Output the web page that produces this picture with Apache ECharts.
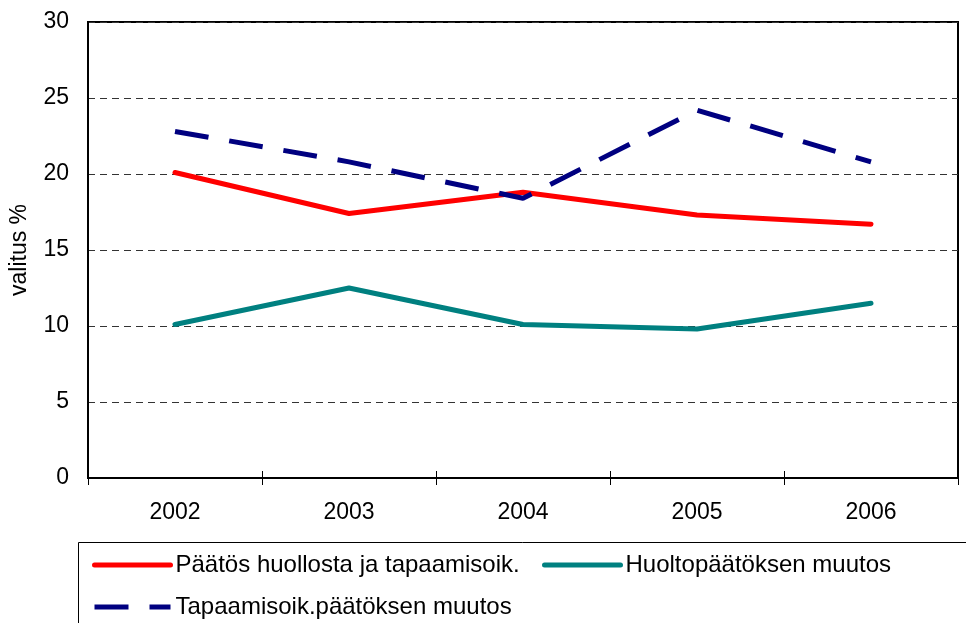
<!DOCTYPE html>
<html><head><meta charset="utf-8">
<script src="https://cdn.jsdelivr.net/npm/echarts@6/dist/echarts.min.js"></script>
<style>html,body{margin:0;padding:0;background:#fff}#c{width:966px;height:623px}</style>
</head><body><div id="c"></div>
<script>
const categories = ['2002','2003','2004','2005','2006'];
const yTicks = [0,5,10,15,20,25,30];
const nameRed = 'Päätös huollosta ja tapaamisoik.';
const nameTeal = 'Huoltopäätöksen muutos';
const nameBlue = 'Tapaamisoik.päätöksen muutos';
const redValues = [20.1, 17.4, 18.8, 17.3, 16.7];
const tealValues = [10.1, 12.5, 10.1, 9.8, 11.5];
const blueValues = [22.8, 20.8, 18.4, 24.2, 20.8];

const font = 'Liberation Sans, Arial, sans-serif';
const chart = echarts.init(document.getElementById('c'), null, {renderer:'canvas'});
function lg(name, left, top){
  return {data:[{name:name, itemStyle:{opacity:0}}], left:left, top:top, orient:'horizontal', itemWidth:76, itemHeight:14, itemGap:0,
    padding:0, selectedMode:false,
    itemStyle:{opacity:0, borderWidth:0},
    lineStyle:{width:5},
    textStyle:{fontFamily:font, fontSize:24, color:'#000'}};
}
chart.setOption({
  animation:false,
  grid:{left:88, right:8, top:22, bottom:145, show:true, borderColor:'#000', borderWidth:2, containLabel:false, outerBoundsMode:'none'},
  xAxis:[{type:'category', data:categories, boundaryGap:true,
    axisLine:{lineStyle:{color:'#000', width:2}},
    axisTick:{show:true, inside:false, length:7, lineStyle:{color:'#000', width:1}},
    axisLabel:{fontFamily:font, fontSize:23, color:'#000', margin:23},
    splitLine:{show:false}},
    {type:'category', data:categories, boundaryGap:true, position:'bottom', offset:0,
    axisLine:{show:false},
    axisTick:{show:true, inside:true, length:7, lineStyle:{color:'#000', width:1}},
    axisLabel:{show:false}, splitLine:{show:false}}],
  yAxis:{type:'value', min:0, max:30, interval:5, name:'valitus %', nameLocation:'middle', nameGap:57,
    nameTextStyle:{fontFamily:font, fontSize:23, color:'#000'},
    axisLine:{show:true, lineStyle:{color:'#000', width:2}},
    axisTick:{show:false},
    axisLabel:{fontFamily:font, fontSize:23, color:'#000', margin:19},
    splitLine:{show:true, lineStyle:{color:'#333', width:1, type:[7,5]}}},
  legend:[lg(nameRed, 92, 553), lg(nameTeal, 542, 553), lg(nameBlue, 92, 595)],
  graphic:[{type:'rect', shape:{x:78.5, y:542.5, width:950, height:150}, style:{fill:'none', stroke:'#000', lineWidth:1}, z:-1}],
  series:[
    {name:nameRed, type:'line', data:redValues, symbol:'none', lineStyle:{color:'#FF0000', width:5, cap:'round'}, itemStyle:{color:'#FF0000'}},
    {name:nameTeal, type:'line', data:tealValues, symbol:'none', lineStyle:{color:'#008080', width:5, cap:'round'}, itemStyle:{color:'#008080'}},
    {name:nameBlue, type:'line', data:blueValues, symbol:'none', lineStyle:{color:'#000080', width:5, type:[34,21]}, itemStyle:{color:'#000080'}}
  ]
});
</script></body></html>
